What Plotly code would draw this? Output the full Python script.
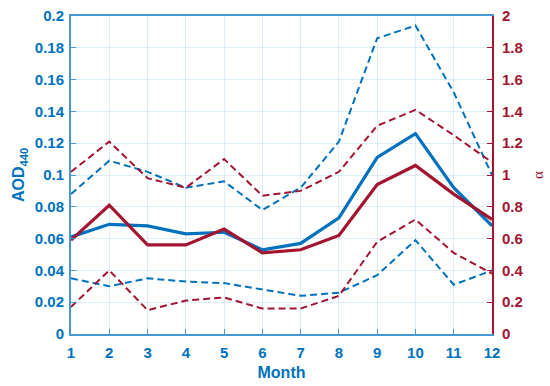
import plotly.graph_objects as go

months = list(range(1, 13))
aod_mean = [0.061, 0.069, 0.068, 0.063, 0.064, 0.053, 0.057, 0.073, 0.111, 0.126, 0.092, 0.068]
aod_upper = [0.088, 0.109, 0.102, 0.092, 0.096, 0.078, 0.092, 0.121, 0.186, 0.194, 0.152, 0.100]
aod_lower = [0.035, 0.030, 0.035, 0.033, 0.032, 0.028, 0.024, 0.026, 0.037, 0.059, 0.031, 0.040]
alpha_mean = [0.59, 0.81, 0.56, 0.56, 0.66, 0.51, 0.53, 0.62, 0.94, 1.06, 0.88, 0.72]
alpha_upper = [1.02, 1.21, 0.98, 0.92, 1.10, 0.87, 0.90, 1.02, 1.31, 1.41, 1.25, 1.08]
alpha_lower = [0.17, 0.40, 0.15, 0.21, 0.23, 0.16, 0.16, 0.24, 0.58, 0.72, 0.51, 0.38]

BLUE = "#0072BD"
RED = "#A2142F"
AXBLUE = "#4a98d3"
GRID = "rgba(0,114,189,0.13)"
FONT = "Liberation Sans, Arial, sans-serif"

fig = go.Figure()
dash = "7px,4px"
fig.add_trace(go.Scatter(x=months, y=aod_upper, mode="lines", line=dict(color=BLUE, width=2, dash=dash), yaxis="y"))
fig.add_trace(go.Scatter(x=months, y=aod_lower, mode="lines", line=dict(color=BLUE, width=2, dash=dash), yaxis="y"))
fig.add_trace(go.Scatter(x=months, y=aod_mean, mode="lines", line=dict(color=BLUE, width=3.2), yaxis="y"))
fig.add_trace(go.Scatter(x=months, y=alpha_upper, mode="lines", line=dict(color=RED, width=2, dash=dash), yaxis="y2"))
fig.add_trace(go.Scatter(x=months, y=alpha_lower, mode="lines", line=dict(color=RED, width=2, dash=dash), yaxis="y2"))
fig.add_trace(go.Scatter(x=months, y=alpha_mean, mode="lines", line=dict(color=RED, width=3.2), yaxis="y2"))

tickfont_blue = dict(family=FONT, size=15, color=BLUE, weight="bold")
tickfont_red = dict(family=FONT, size=15, color=RED, weight="bold")

fig.update_layout(
    width=550, height=386,
    margin=dict(l=71, r=58, t=16, b=52, pad=0, autoexpand=False),
    paper_bgcolor="white", plot_bgcolor="white",
    showlegend=False,
    xaxis=dict(
        range=[1, 12], tickvals=months, ticktext=[str(m) for m in months],
        showgrid=True, gridcolor=GRID, gridwidth=1,
        showline=True, linecolor=AXBLUE, linewidth=2, mirror=True,
        ticks="inside", ticklen=5, tickcolor=AXBLUE, ticklabelstandoff=4,
        tickfont=tickfont_blue, zeroline=False, automargin=False,
        title=dict(text="Month", font=dict(family=FONT, size=16, color=BLUE, weight="bold"), standoff=7),
    ),
    yaxis=dict(
        range=[0, 0.2], dtick=0.02,
        showgrid=True, gridcolor=GRID, gridwidth=1,
        showline=True, linecolor=AXBLUE, linewidth=2,
        ticks="inside", ticklen=5, tickcolor=AXBLUE, ticklabelstandoff=2,
        tickfont=tickfont_blue, zeroline=False, automargin=False,
        title=dict(text="AOD<sub>440</sub>", font=dict(family=FONT, size=16, color=BLUE, weight="bold"), standoff=6),
    ),
    yaxis2=dict(
        range=[0, 2], dtick=0.2, overlaying="y", side="right",
        showgrid=False,
        showline=True, linecolor=RED, linewidth=2,
        ticks="inside", ticklen=5, tickcolor=RED, ticklabelstandoff=5,
        tickfont=tickfont_red, zeroline=False, automargin=False,
        title=dict(text="α", font=dict(family="Liberation Serif, serif", size=15, color=RED), standoff=10),
    ),
)

fig.write_html("out.html", config={"displayModeBar": False},
               post_script="document.body.style.margin='0';")
